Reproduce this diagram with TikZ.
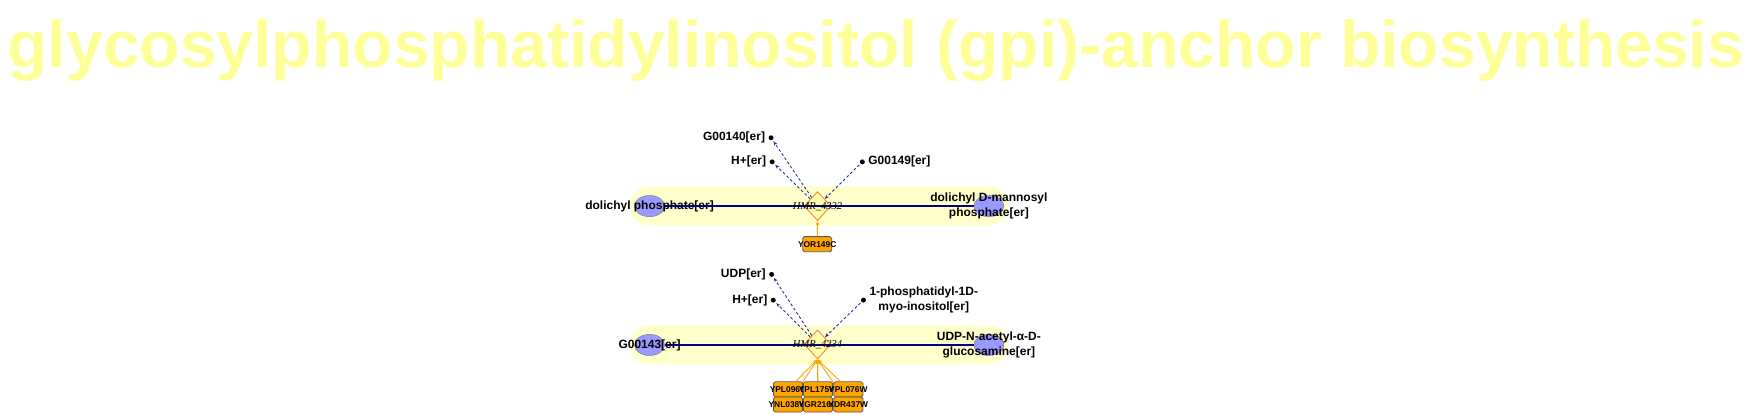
\documentclass[tikz,border=0pt]{standalone}
\usepackage{fontspec}
\setmainfont{Liberation Sans}
\newfontfamily\serifit{Liberation Serif}
\usetikzlibrary{shapes.geometric,arrows.meta}

\definecolor{cortitulo}{HTML}{FFFF99}
\definecolor{corfaixa}{HTML}{FFFFCC}
\definecolor{lilas}{HTML}{9999FF}
\definecolor{corlosango}{HTML}{FFFFAA}
\definecolor{bordalaranja}{HTML}{FF8C55}
\definecolor{laranja}{HTML}{FFA500}
\definecolor{marinho}{HTML}{000080}
\definecolor{azul}{HTML}{2E2E99}

\begin{document}
\begin{tikzpicture}[x=1pt, y=-1pt,
                metab/.style={shape=ellipse, draw=gray, fill=lilas, minimum width=27pt, minimum height=19pt, inner sep=0pt},
                reacao/.style={shape=diamond, draw=bordalaranja, line width=0.9pt, fill=corlosango, minimum width=24pt, minimum height=26pt, inner sep=0pt},
                gene/.style={shape=rectangle, rounded corners=1.5pt, draw=gray!70!black, line width=0.7pt, fill=laranja, minimum width=26pt, minimum height=13.4pt, inner sep=0pt},
                ponto/.style={shape=circle, fill=black, minimum size=4.4pt, inner sep=0pt, outer sep=1.5pt},
                rotulo/.style={font=\fontsize{10.7}{13}\selectfont\bfseries, align=center, inner sep=1.5pt},
                rotgene/.style={font=\fontsize{7.5}{8}\selectfont\bfseries, inner sep=0pt},
                rotreacao/.style={font=\fontsize{9.4}{10}\serifit\itshape, inner sep=0pt},
                faixa/.style={fill=corfaixa, rounded corners=17.5pt},
                linha/.style={draw=marinho, line width=1.1pt},
                saida/.style={draw=azul, dash pattern=on 2.5pt off 2pt, line width=0.8pt, -{Stealth[length=4pt, width=3pt]}},
                ativa/.style={draw=laranja, line width=0.8pt, -{Stealth[length=4pt, width=3.5pt]}},
            ]
            \useasboundingbox (0,0) rectangle (1568,370);
            \node[font=\fontsize{59}{60}\selectfont\bfseries, text=cortitulo, anchor=base, inner sep=0pt] (titulo) at (782,60) {glycosylphosphatidylinositol (gpi)-anchor biosynthesis};

            % HMR_4332
            \fill[faixa] (562.5,166.5) rectangle (900.5,201.5);
            \node[metab, label={[rotulo]center:{dolichyl phosphate[er]}}] (dolp) at (580,184) {};
            \node[metab, label={[rotulo]center:{dolichyl D-mannosyl\\phosphate[er]}}] (dolman) at (883,184) {};
            \node[reacao] (r4332) at (730,184) {};
            \node[ponto, label={[rotulo]left:{G00140[er]}}] (g140) at (688.5,123) {};
            \node[ponto, label={[rotulo]left:{H+[er]}}] (hmais1) at (689.5,144.5) {};
            \node[ponto, label={[rotulo]right:{G00149[er]}}] (g149) at (770,144.5) {};
            \node[gene, label={[rotgene]center:YOR149C}] (yor149c) at (729.7,218) {};
            \draw[linha] (dolp) -- (dolman);
            \node[rotreacao] (r4332t) at (730,184.5) {HMR\_4332};
            \draw[saida] (r4332) -- (g140);
            \draw[saida] (r4332) -- (hmais1);
            \draw[saida] (g149) -- (r4332);
            \draw[ativa] (yor149c) -- (r4332.south);

            % HMR_4234
            \fill[faixa] (562.5,290.5) rectangle (900.5,325.5);
            \node[metab, label={[rotulo]center:{G00143[er]}}] (g143) at (580,308) {};
            \node[metab, label={[rotulo]center:{UDP-N-acetyl-α-D-\\glucosamine[er]}}] (udpglc) at (883,308) {};
            \node[reacao] (r4234) at (730,307.5) {};
            \node[ponto, label={[rotulo]left:{UDP[er]}}] (udp) at (689,245) {};
            \node[ponto, label={[rotulo]left:{H+[er]}}] (hmais2) at (690.5,268) {};
            \node[ponto, label={[rotulo]right:{1-phosphatidyl-1D-\\myo-inositol[er]}}] (pinos) at (771,268) {};
            \node[gene, label={[rotgene]center:YNL038W}] (ynl038w) at (703.6,361.2) {};
            \node[gene, label={[rotgene]center:YGR216C}] (ygr216c) at (730.4,361.2) {};
            \node[gene, label={[rotgene]center:YDR437W}] (ydr437w) at (757.5,361.2) {};
            \draw[ativa] (ynl038w) -- (r4234.south);
            \draw[ativa] (ygr216c) -- (r4234.south);
            \draw[ativa] (ydr437w) -- (r4234.south);
            \node[gene, label={[rotgene]center:YPL096C}] (ypl096c) at (703.6,347.6) {};
            \node[gene, label={[rotgene]center:YPL175W}] (ypl175w) at (730.4,347.6) {};
            \node[gene, label={[rotgene]center:YPL076W}] (ypl076w) at (757.5,347.6) {};
            \draw[ativa] (ypl096c) -- (r4234.south);
            \draw[ativa] (ypl175w) -- (r4234.south);
            \draw[ativa] (ypl076w) -- (r4234.south);
            \draw[linha] (g143) -- (udpglc);
            \node[rotreacao] (r4234t) at (730,308) {HMR\_4234};
            \draw[saida] (r4234) -- (udp);
            \draw[saida] (r4234) -- (hmais2);
            \draw[saida] (pinos) -- (r4234);
        \end{tikzpicture}
\end{document}
